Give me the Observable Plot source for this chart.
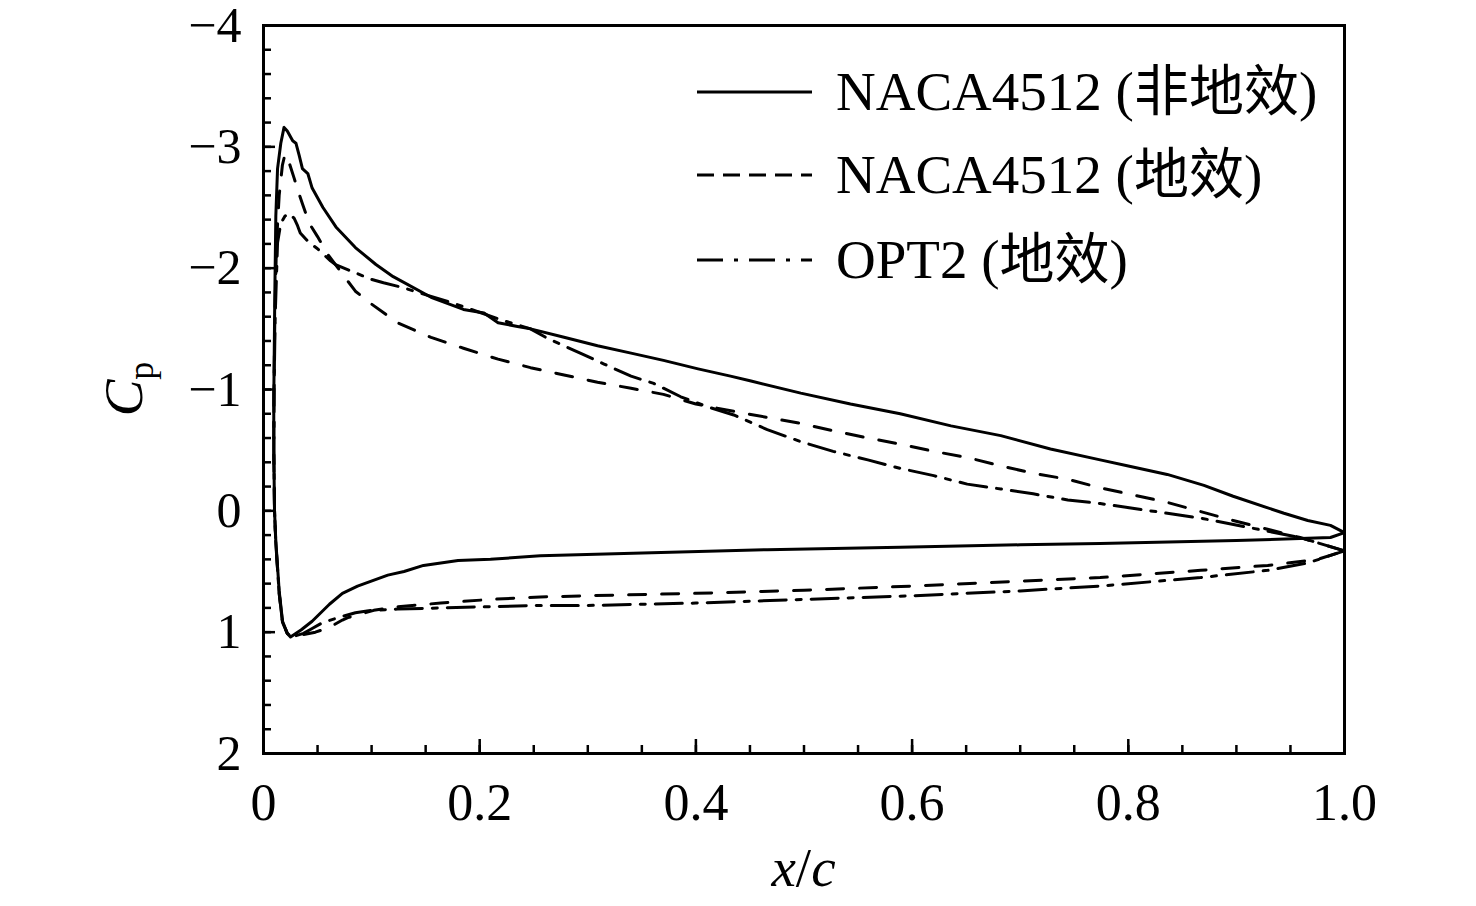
<!DOCTYPE html>
<html><head><meta charset="utf-8">
<script src="https://cdn.jsdelivr.net/npm/d3@7"></script>
<script src="https://cdn.jsdelivr.net/npm/@observablehq/plot@0.6"></script>
<style>
html,body{margin:0;padding:0;background:#fff;overflow:hidden;}
#chart{position:relative;width:1476px;height:906px;}
#chart svg{display:block;}
</style></head><body><div id="chart"></div>
<script>
// ---- data (x/c, Cp) ----
const solidUpperX = [0.025,0.022,0.0176,0.0145,0.0114,0.0102,0.0095,0.0095,0.0104,0.0114,0.013,0.016,0.019,0.022,0.027,0.030,0.033,0.036,0.041,0.045,0.050,0.055,0.067,0.085,0.104,0.120,0.155,0.185,0.204,0.217,0.235,0.247,0.278,0.309,0.340,0.370,0.402,0.432,0.451,0.497,0.543,0.589,0.636,0.682,0.728,0.774,0.800,0.836,0.870,0.897,0.944,0.966,0.987,1.0];
const solidUpperCp = [1.04,1.01,0.91,0.66,0.25,0.0,-0.5,-0.91,-1.73,-2.43,-2.82,-3.03,-3.16,-3.13,-3.05,-3.03,-2.93,-2.82,-2.78,-2.66,-2.58,-2.50,-2.34,-2.17,-2.03,-1.93,-1.76,-1.66,-1.63,-1.55,-1.52,-1.50,-1.43,-1.36,-1.30,-1.24,-1.17,-1.11,-1.07,-0.97,-0.88,-0.80,-0.70,-0.62,-0.51,-0.42,-0.37,-0.30,-0.21,-0.12,0.02,0.08,0.12,0.18];
const solidLowerX = [0.025,0.035,0.045,0.061,0.073,0.087,0.115,0.130,0.148,0.180,0.210,0.256,0.342,0.466,0.589,0.700,0.774,0.900,0.987,1.0];
const solidLowerCp = [1.04,0.98,0.91,0.77,0.68,0.62,0.53,0.50,0.45,0.41,0.40,0.37,0.35,0.32,0.30,0.28,0.27,0.245,0.22,0.18];

const dashUpperX = [0.026,0.022,0.0176,0.0145,0.0114,0.0102,0.0095,0.0097,0.0105,0.012,0.0145,0.0175,0.0199,0.0237,0.0284,0.0315,0.036,0.0423,0.050,0.059,0.069,0.085,0.099,0.124,0.155,0.185,0.217,0.247,0.278,0.309,0.340,0.370,0.400,0.435,0.466,0.497,0.527,0.559,0.589,0.620,0.651,0.682,0.712,0.744,0.774,0.836,0.897,0.959,1.0];
const dashUpperCp = [1.04,1.01,0.92,0.68,0.27,0.0,-0.5,-1.0,-1.6,-2.2,-2.6,-2.85,-2.94,-2.87,-2.74,-2.65,-2.53,-2.37,-2.26,-2.12,-2.00,-1.81,-1.71,-1.55,-1.43,-1.34,-1.25,-1.18,-1.12,-1.06,-1.01,-0.96,-0.88,-0.82,-0.77,-0.72,-0.66,-0.60,-0.55,-0.49,-0.44,-0.37,-0.31,-0.26,-0.19,-0.07,0.08,0.22,0.33];
const dashLowerX = [0.026,0.037,0.048,0.061,0.073,0.078,0.102,0.124,0.164,0.210,0.256,0.300,0.400,0.500,0.600,0.700,0.774,0.867,0.929,0.975,1.0];
const dashLowerCp = [1.04,1.02,1.0,0.96,0.90,0.88,0.82,0.79,0.76,0.73,0.71,0.70,0.68,0.655,0.62,0.58,0.55,0.49,0.45,0.40,0.33];

const ddUpperX = [0.026,0.022,0.0176,0.0145,0.0114,0.0102,0.0096,0.0098,0.0108,0.013,0.016,0.0199,0.024,0.0284,0.0315,0.034,0.0423,0.050,0.062,0.0666,0.080,0.099,0.111,0.129,0.143,0.176,0.189,0.221,0.247,0.263,0.293,0.315,0.340,0.361,0.386,0.410,0.435,0.466,0.497,0.527,0.559,0.589,0.620,0.651,0.682,0.712,0.744,0.774,0.867,0.913,0.959,1.0];
const ddUpperCp = [1.04,1.01,0.92,0.68,0.27,0.0,-0.5,-1.0,-1.6,-2.21,-2.37,-2.43,-2.45,-2.41,-2.35,-2.29,-2.21,-2.16,-2.06,-2.03,-1.98,-1.91,-1.88,-1.84,-1.80,-1.71,-1.67,-1.57,-1.50,-1.42,-1.30,-1.21,-1.11,-1.05,-0.94,-0.86,-0.79,-0.67,-0.57,-0.49,-0.42,-0.35,-0.29,-0.22,-0.18,-0.14,-0.09,-0.06,0.06,0.14,0.22,0.33];
const ddLowerX = [0.026,0.037,0.045,0.055,0.073,0.085,0.100,0.124,0.164,0.210,0.256,0.300,0.400,0.500,0.600,0.700,0.774,0.867,0.929,0.966,1.0];
const ddLowerCp = [1.04,1.01,0.97,0.92,0.87,0.84,0.82,0.81,0.80,0.79,0.78,0.78,0.76,0.73,0.70,0.66,0.62,0.55,0.49,0.43,0.33];

const seriesNames = ["NACA4512 (非地效)", "NACA4512 (地效)", "OPT2 (地效)"];
const xMajorTicks = [0, 0.2, 0.4, 0.6, 0.8, 1.0];
const xMinorTicks = d3.range(0, 21).map(i => i * 0.05);
const yMajorTicks = [-4, -3, -2, -1, 0, 1, 2];
const yMinorTicks = d3.range(0, 31).map(i => -4 + i * 0.2);

// closed loop: upper surface from trailing edge to stagnation, then lower surface to trailing edge
function loop(ux, ucp, lx, lcp) {
  const up = ux.map((x, i) => ({x, cp: ucp[i]})).reverse();
  const lo = lx.map((x, i) => ({x, cp: lcp[i]})).slice(1);
  return up.concat(lo);
}
const solidData = loop(solidUpperX, solidUpperCp, solidLowerX, solidLowerCp);
const dashData = loop(dashUpperX, dashUpperCp, dashLowerX, dashLowerCp);
const ddData = loop(ddUpperX, ddUpperCp, ddLowerX, ddLowerCp);

const W = 1476, H = 906, mL = 263, mR = 132, mT = 25, mB = 153;
const plotW = W - mL - mR, plotH = H - mT - mB;
const FONT = '"Liberation Serif","Times New Roman","Noto Sans CJK SC",serif';
const dashPat = "17,16", ddPat = "27,10,5,10";
const LW = 3;

const chart = Plot.plot({
  width: W, height: H,
  marginLeft: mL, marginRight: mR, marginTop: mT, marginBottom: mB,
  style: {fontFamily: FONT, background: "white", color: "black"},
  x: {domain: [0, 1]},
  y: {domain: [-4, 2], reverse: true},
  marks: [
    Plot.line(solidData, {x: "x", y: "cp", stroke: "black", strokeWidth: LW}),
    Plot.line(dashData, {x: "x", y: "cp", stroke: "black", strokeWidth: LW, strokeDasharray: dashPat}),
    Plot.line(ddData, {x: "x", y: "cp", stroke: "black", strokeWidth: LW, strokeDasharray: ddPat}),
    Plot.tickY(yMinorTicks, {y: d => d, insetRight: plotW - 8, stroke: "black", strokeWidth: 2.5}),
    Plot.tickY(yMajorTicks, {y: d => d, insetRight: plotW - 12, stroke: "black", strokeWidth: 2.5}),
    Plot.tickX(xMinorTicks, {x: d => d, insetTop: plotH - 8, stroke: "black", strokeWidth: 2.5}),
    Plot.tickX(xMajorTicks, {x: d => d, insetTop: plotH - 14, stroke: "black", strokeWidth: 2.5}),
    Plot.axisY(yMajorTicks, {tickSize: 0, tickPadding: 22, fontSize: 50, label: null,
      tickFormat: d => d < 0 ? "\u2212" + Math.abs(d) : String(d)}),
    Plot.axisX(xMajorTicks, {tickSize: 0, tickPadding: 30, fontSize: 52, label: null,
      tickFormat: d => d === 0 ? "0" : d.toFixed(1)}),
    Plot.frame({stroke: "black", strokeWidth: 3})
  ]
});
document.getElementById("chart").appendChild(chart);

const svg = d3.select(chart);
// y-axis label C_p
const yl = svg.append("text")
  .attr("transform", `translate(142,${mT + plotH / 2}) rotate(-90)`)
  .attr("text-anchor", "middle")
  .attr("font-family", FONT).attr("font-size", 55).attr("fill", "black");
yl.append("tspan").attr("font-style", "italic").text("C");
yl.append("tspan").attr("font-size", 36).attr("dy", 11).text("p");
// x-axis label
const xl = svg.append("text")
  .attr("x", mL + plotW / 2).attr("y", 886)
  .attr("text-anchor", "middle")
  .attr("font-family", FONT).attr("font-size", 55).attr("font-style", "italic").attr("fill", "black");
xl.append("tspan").text("x");
xl.append("tspan").attr("font-style", "normal").text("/");
xl.append("tspan").text("c");

// legend
const legendY = [92, 175, 260];
const legendDash = [null, "17,9", "26,11,4,11"];
const lg = svg.append("g").attr("text-anchor", "start");
seriesNames.forEach((name, i) => {
  lg.append("line").attr("x1", 697).attr("x2", 812).attr("y1", legendY[i]).attr("y2", legendY[i])
    .attr("stroke", "black").attr("stroke-width", LW)
    .attr("stroke-dasharray", legendDash[i]);
  lg.append("text").attr("x", 836).attr("y", legendY[i] + 18)
    .attr("text-anchor", "start")
    .attr("font-family", FONT).attr("font-size", 55).attr("fill", "black").text(name);
});
</script></body></html>
